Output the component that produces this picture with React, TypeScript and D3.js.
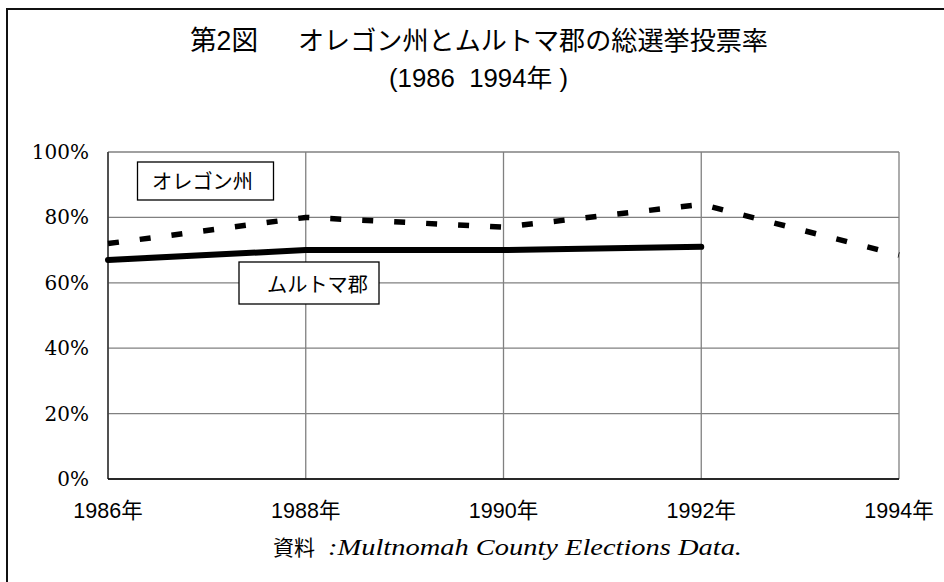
import React from "react";
import * as d3 from "d3";

const years = [1986, 1988, 1990, 1992, 1994];
const yearLabels = ["1986年", "1988年", "1990年", "1992年", "1994年"];
const oregon = [72, 80, 77, 84, 68.5];
const multnomah = [67, 70, 70, 71];
const yTicks = [0, 20, 40, 60, 80, 100];

const width = 944;
const height = 582;
const margin = { left: 108, right: 45, top: 152, bottom: 103 };

const sans = "'Liberation Sans', Arial, 'Noto Sans CJK JP', sans-serif";
const serif = "'DejaVu Serif', serif";

export default function App() {
  const x = d3
    .scaleLinear()
    .domain([1986, 1994])
    .range([margin.left, width - margin.right]);
  const y = d3
    .scaleLinear()
    .domain([0, 100])
    .range([height - margin.bottom, margin.top]);

  const line = d3
    .line<number>()
    .x((d, i) => x(years[i]))
    .y((d) => y(d));

  const x0 = x(1986);
  const x1 = x(1994);
  const yTop = y(100);
  const yBot = y(0);

  return (
    <svg
      width={width}
      height={height}
      style={{ position: "absolute", left: 0, top: 0, background: "#fff" }}
    >
      {/* outer frame */}
      <path d={`M7,${height + 5}V9H${width + 5}`} fill="none" stroke="#111" strokeWidth={2} />

      <text x={190} y={50} fontFamily={sans} fontSize={27} textLength={68} lengthAdjust="spacingAndGlyphs">
        第2図
      </text>
      <text x={298} y={50} fontFamily={sans} fontSize={26} textLength={470} lengthAdjust="spacingAndGlyphs">
        オレゴン州とムルトマ郡の総選挙投票率
      </text>
      <text
        x={478.5}
        y={87}
        textAnchor="middle"
        fontFamily={sans}
        fontSize={25}
        xmlSpace="preserve"
        textLength={179}
        lengthAdjust="spacingAndGlyphs"
      >
        (1986  1994年 )
      </text>

      {/* grid */}
      {yTicks.map((t) => (
        <line key={"h" + t} x1={x0} x2={x1} y1={y(t)} y2={y(t)} stroke="#808080" strokeWidth={1.3} />
      ))}
      {years.map((t) => (
        <line key={"v" + t} x1={x(t)} x2={x(t)} y1={yTop} y2={yBot} stroke="#808080" strokeWidth={1.3} />
      ))}
      <line x1={x0} x2={x0} y1={yTop} y2={yBot} stroke="#333" strokeWidth={1.5} />
      <line x1={x0} x2={x1} y1={yBot} y2={yBot} stroke="#000" strokeWidth={1.5} />

      {/* y labels */}
      {yTicks.map((t) => (
        <text key={"yl" + t} x={89} y={y(t) + 7} textAnchor="end" fontFamily={serif} fontSize={20}>
          {t + "%"}
        </text>
      ))}

      {/* x labels */}
      {years.map((t, i) => (
        <text key={"xl" + t} x={x(t)} y={518} textAnchor="middle" fontFamily={sans} fontSize={21.5}>
          {yearLabels[i]}
        </text>
      ))}

      {/* series */}
      <path
        d={line(oregon) || ""}
        fill="none"
        stroke="#000"
        strokeWidth={5.5}
        strokeDasharray="11 21"
        strokeLinejoin="round"
      />
      <path
        d={line(multnomah) || ""}
        fill="none"
        stroke="#000"
        strokeWidth={6}
        strokeLinecap="round"
        strokeLinejoin="round"
      />

      {/* labels */}
      <rect x={137.5} y={162} width={136} height={38} fill="#fff" stroke="#000" strokeWidth={1.3} />
      <text x={152} y={189} fontFamily={sans} fontSize={20} textLength={101} lengthAdjust="spacingAndGlyphs">
        オレゴン州
      </text>
      <rect x={239} y={262} width={140} height={42} fill="#fff" stroke="#000" strokeWidth={1.3} />
      <text x={267} y={292} fontFamily={sans} fontSize={20.5} textLength={101} lengthAdjust="spacingAndGlyphs">
        ムルトマ郡
      </text>

      {/* source */}
      <text x={273} y={555} fontFamily={sans} fontSize={21}>
        資料
      </text>
      <text
        x={328}
        y={555}
        fontFamily="'Liberation Serif', serif"
        fontStyle="italic"
        fontSize={23}
        textLength={414}
        lengthAdjust="spacingAndGlyphs"
      >
        :Multnomah County Elections Data.
      </text>
    </svg>
  );
}
